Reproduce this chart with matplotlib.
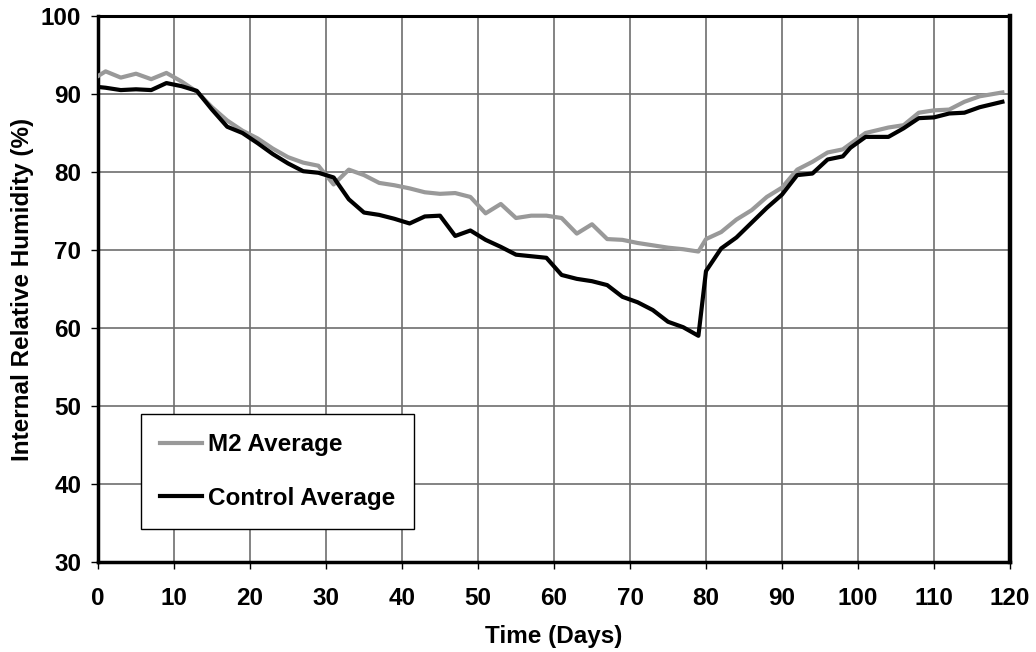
import numpy as np
import matplotlib
matplotlib.use("Agg")
import matplotlib.pyplot as plt

plt.rcParams['font.family'] = ['Liberation Sans', 'DejaVu Sans']
plt.rcParams['font.weight'] = 'bold'

# sampling days (shared by both series)
days = [0, 1, 3, 5, 7, 9, 11, 13, 15, 17, 19, 21, 23, 25, 27, 29, 31, 33, 35, 37,
        39, 41, 43, 45, 47, 49, 51, 53, 55, 57, 59, 61, 63, 65, 67, 69, 71, 73, 75, 77,
        79, 80, 82, 84, 86, 88, 90, 92, 94, 96, 98, 99, 101, 104, 106, 108, 110, 112,
        114, 116, 119]

m2_avg = [92.3, 92.9, 92.1, 92.6, 91.9, 92.7, 91.6, 90.3, 88.3, 86.6, 85.3, 84.3, 83.0,
          81.9, 81.2, 80.8, 78.4, 80.3, 79.6, 78.6, 78.3, 77.9, 77.4, 77.2, 77.3, 76.8,
          74.7, 75.9, 74.1, 74.4, 74.4, 74.1, 72.1, 73.3, 71.4, 71.3, 70.9, 70.6, 70.3,
          70.1, 69.8, 71.4, 72.3, 73.9, 75.1, 76.8, 78.0, 80.3, 81.3, 82.5, 82.9, 83.6,
          85.0, 85.7, 86.0, 87.6, 87.9, 88.0, 89.0, 89.7, 90.2]

control_avg = [90.9, 90.8, 90.5, 90.6, 90.5, 91.4, 91.0, 90.4, 88.0, 85.8, 85.0, 83.7,
               82.3, 81.1, 80.1, 79.9, 79.3, 76.5, 74.8, 74.5, 74.0, 73.4, 74.3, 74.4,
               71.8, 72.5, 71.3, 70.4, 69.4, 69.2, 69.0, 66.8, 66.3, 66.0, 65.5, 64.0,
               63.3, 62.3, 60.8, 60.1, 59.0, 67.3, 70.2, 71.6, 73.5, 75.4, 77.1, 79.6,
               79.8, 81.6, 82.0, 83.1, 84.5, 84.5, 85.6, 86.9, 87.0, 87.5, 87.6, 88.3, 89.0]

fs = 17.5

fig = plt.figure(figsize=(10.36, 6.52), dpi=100)
ax = fig.add_axes([0.0946, 0.138, 0.8803, 0.8375])

ax.plot(days, m2_avg, color='#999999', lw=3.0, label='M2 Average', zorder=3)
ax.plot(days, control_avg, color='black', lw=3.0, label='Control Average', zorder=4)

ax.set_xlim(0, 120)
ax.set_ylim(30, 100)
ax.set_xticks(np.arange(0, 121, 10))
ax.set_yticks(np.arange(30, 101, 10))
ax.grid(True, color='#6e6e6e', lw=1.2)
ax.set_axisbelow(True)

ax.tick_params(axis='both', labelsize=fs, length=5, width=1, direction='out')
ax.tick_params(axis='y', pad=7)
ax.tick_params(axis='x', pad=13)
for lab in ax.get_xticklabels() + ax.get_yticklabels():
    lab.set_fontweight('bold')

ax.spines['left'].set_linewidth(2.5)
ax.spines['bottom'].set_linewidth(2.5)
ax.spines['top'].set_linewidth(2.2)
ax.spines['right'].set_linewidth(3.2)

ax.set_xlabel('Time (Days)', fontsize=fs, fontweight='bold', labelpad=11)
ax.set_ylabel('Internal Relative Humidity (%)', fontsize=fs, fontweight='bold', labelpad=5)

leg = ax.legend(loc='lower left', bbox_to_anchor=(0.047, 0.06), borderaxespad=0,
                frameon=True, fancybox=False, handlelength=1.7,
                handletextpad=0.25, labelspacing=1.25, borderpad=0.8,
                prop={'weight': 'bold', 'size': 17.5})
leg.get_frame().set_edgecolor('black')
leg.get_frame().set_linewidth(1.0)
leg.get_frame().set_alpha(1)

fig.savefig('out.png', dpi=100)
